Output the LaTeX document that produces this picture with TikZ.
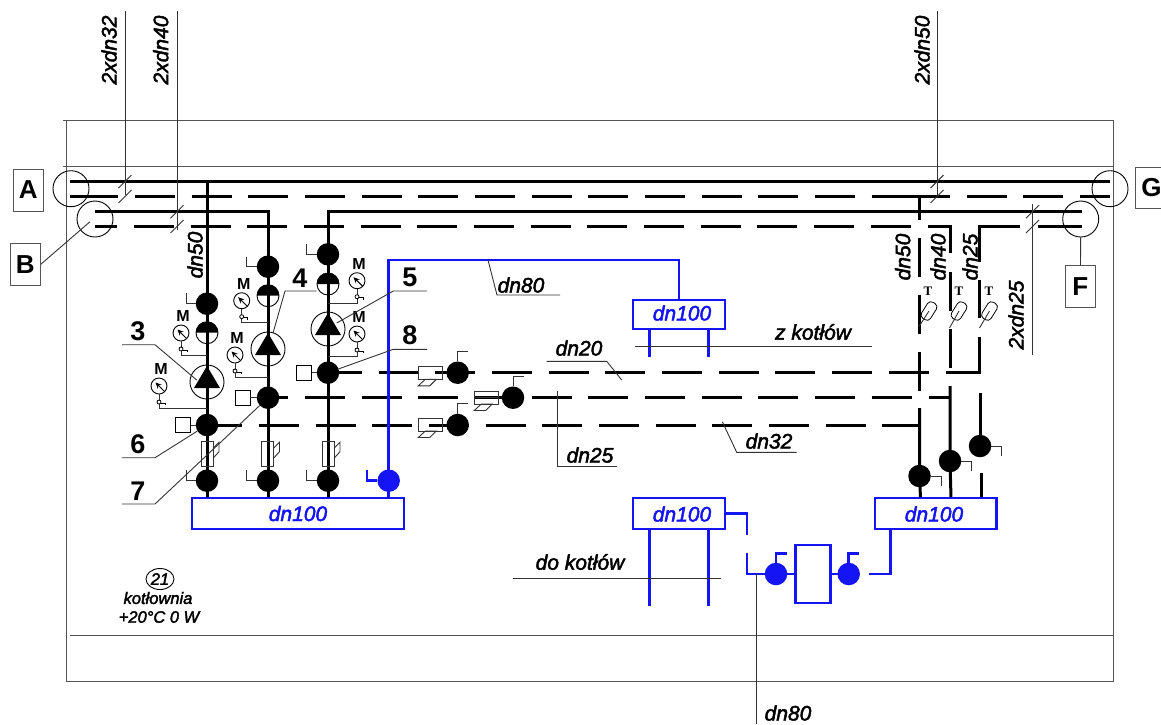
\documentclass[tikz,border=0pt]{standalone}
\usepackage{fontspec}
\setmainfont{Liberation Sans}
\newfontfamily\dnfont{Liberation Sans Italic}[FakeBold=2.2]
\newfontfamily\tfont{Liberation Serif}
\usetikzlibrary{backgrounds,arrows.meta,calc}
\definecolor{pipeblue}{RGB}{20,20,245}
\definecolor{framegray}{RGB}{85,85,85}
\tikzset{
  pipe/.style={line width=3pt,black},
  dashpipe/.style={pipe,dash pattern=on 40pt off 16.67pt},
  bluepipe/.style={line width=2.6pt,pipeblue},
  thin line/.style={line width=0.9pt,black!80},
  frameline/.style={line width=1pt,framegray},
  ball/.style={circle,fill=black,draw=none,minimum size=22.5pt,inner sep=0pt},
  blueball/.style={ball,fill=pipeblue},
  halfb/.style={circle,draw=black,line width=0.9pt,minimum size=22pt,inner sep=0pt},
  pump/.style={circle,draw=black,line width=0.9pt,minimum size=34pt,inner sep=0pt},
  gaugeb/.style={circle,draw=black,fill=white,line width=0.9pt,minimum size=16pt,inner sep=0pt},
  smallbox/.style={draw=black,fill=white,line width=0.9pt,minimum size=15pt,inner sep=0pt},
  letterbox/.style={draw=framegray,fill=white,line width=1pt,minimum width=30pt,minimum height=42pt,inner sep=0pt,font=\fontsize{26}{26}\selectfont\bfseries},
  bluebox/.style={draw=pipeblue,line width=2.6pt,inner sep=0pt,text=pipeblue,font=\dnfont\fontsize{21}{21}\selectfont},
  dnlab/.style={inner sep=0pt,font=\dnfont\fontsize{21}{21}\selectfont},
  smalllab/.style={inner sep=0pt,font=\dnfont\fontsize{16.5}{16.5}\selectfont},
  num/.style={inner sep=0pt,font=\fontsize{27}{27}\selectfont\bfseries},
  mlab/.style={inner sep=0pt,font=\fontsize{16}{16}\selectfont\bfseries},
  tlab/.style={inner sep=0pt,font=\tfont\fontsize{13}{13}\selectfont\bfseries},
  thermo/.style={draw=black,fill=white,line width=0.8pt,rounded corners=4pt,rotate=58,minimum width=19pt,minimum height=10.5pt,inner sep=0pt}
}
\newcommand{\halfball}[3]{% x y name
  \node[halfb] (#3) at (#1,#2) {};
  \fill[black] ($(#1,#2)+(-11,0)$) arc[start angle=180,end angle=0,radius=11pt] -- cycle;
}
% gauge: x, y, name, y of impulse line, pipe x
\newcommand{\gauge}[5]{%
  \node[gaugeb] (#3) at (#1,#2) {};
  \node[mlab] at ($(#1,#2)+(2,-17)$) {M};
  \draw[-{Stealth[length=6pt,width=5.5pt]},line width=1pt] ($(#1,#2)+(5.4,5.4)$) -- ($(#1,#2)+(-3.5,-3.5)$);
  \draw[thin line] (#3.south) -- (#1,#4) -- (#5,#4);
  \draw[line width=0.8pt,fill=white] ($(#1,#2)+(0,16)$) circle[radius=2pt];
  \draw[line width=0.8pt] ($(#1,#2)+(2,17)$) -- ($(#1,#2)+(6,17)$) -- ($(#1,#2)+(6,19)$);
}
% pump: centre x, y, name
\newcommand{\pumpsym}[3]{%
  \node[pump] (#3) at (#1,#2) {};
  \fill[black] ($(#1,#2)+(0,-16)$) -- ($(#1,#2)+(13,6)$) -- ($(#1,#2)+(-13,6)$) -- cycle;
}
% vertical strainer: pipe x
\newcommand{\strainer}[1]{%
  \draw[thin line] ($(#1,441.7)+(-6,0)$) rectangle ($(#1,466.7)+(6,0)$);
  \draw[thin line] ($(#1,448.3)+(6,0)$) -- ($(#1,442.3)+(12,0)$) -- ($(#1,451.7)+(12,0)$) -- ($(#1,458.3)+(6,0)$);
}
% horizontal valve: left x, top y, bottom y
\newcommand{\hvalve}[3]{%
  \draw[thin line] (#1,#2) rectangle ($(#1,#3)+(24,0)$);
  \draw[thin line] ($(#1,#3)+(0,6.5)$) -- ($(#1,#3)+(7,0)$) -- ($(#1,#3)+(18,0)$) -- ($(#1,#3)+(11.5,6.5)$) -- cycle;
}
\begin{document}
\begin{tikzpicture}[x=1pt,y=-1pt]
\useasboundingbox (0,0) rectangle (1161,724);

% ---- frame
\draw[frameline] (66.5,120) rectangle (1113,681);
\draw[frameline] (63,120) -- (1113,120);
\draw[frameline] (63,166) -- (1113,166);
\draw[frameline] (70,635) -- (1113,635);

% ---- named points on the mains
\coordinate (a0) at (70,181.3);   \coordinate (a1) at (1110,181.3);
\coordinate (b0) at (95,211.5);   \coordinate (b1) at (268,211.5);
\coordinate (b2) at (328,211.5);  \coordinate (b3) at (1081.7,211.5);
\coordinate (c1) at (207,181.3);

% ---- balls and other nodes
\node[ball] (v11) at (207,303.7) {};
\node[ball] (v21) at (268,266.7) {};
\node[ball] (v31) at (328,254.3) {};
\node[ball] (j6) at (207,425) {};
\node[ball] (j7) at (268,397.7) {};
\node[ball] (j8) at (328,372.7) {};
\node[ball] (v14) at (207,480.7) {};
\node[ball] (v24) at (268,480.7) {};
\node[ball] (v34) at (328,480.7) {};
\node[blueball] (vb) at (388.7,480.7) {};
\node[ball] (h1) at (457.7,372.7) {};
\node[ball] (h2) at (513,397.7) {};
\node[ball] (h3) at (457.7,425) {};
\node[ball] (r1) at (919.5,476) {};
\node[ball] (r2) at (950,461) {};
\node[ball] (r3) at (980,446) {};
\node[blueball] (p1) at (776,574) {};
\node[blueball] (p2) at (848.7,574) {};

\halfball{207}{332.7}{h11}
\halfball{268}{295.7}{h21}
\halfball{328}{284}{h31}
\pumpsym{207}{382}{pu1}
\pumpsym{268}{349}{pu2}
\pumpsym{328}{329}{pu3}

\node[bluebox,minimum width=212pt,minimum height=31pt] (main) at (298,513.5) {dn100};
\node[bluebox,minimum width=92pt,minimum height=29pt] (top) at (679,314.5) {};
\node[bluebox,minimum width=92pt,minimum height=31pt] (ret) at (679,513.5) {};
\node[dnlab,text=pipeblue] at (682,313) {dn100};
\node[dnlab,text=pipeblue] at (682,514) {dn100};
\node[bluebox,minimum width=121.7pt,minimum height=31pt] (col) at (935.8,513.5) {};
\node[dnlab,text=pipeblue] at (934,514) {dn100};
\node[draw=pipeblue,line width=2.6pt,minimum width=35pt,minimum height=58pt,inner sep=0pt] (bx) at (813.2,574) {};

\node[smallbox] (s8) at (304,372.7) {};
\node[smallbox] (s7) at (243,397.7) {};
\node[smallbox] (s6) at (183,425) {};

% ---- mains
\begin{scope}[on background layer]
\draw[pipe] (a0) -- (a1);
\draw[pipe] (b0) -- (b1) -- (v21.center);
\draw[pipe] (b3) -- (b2) -- (v31.center);
\draw[pipe] (70,196) -- (118,196);
\draw[dashpipe] (135,196) -- (911.7,196);
\draw[pipe] (911.7,196) -- (950,196);
\draw[pipe] (966.7,196) -- (1006.7,196);
\draw[pipe] (1023.4,196) -- (1063.4,196);
\draw[pipe] (1080,196) -- (1110,196);
\draw[pipe] (95,226.7) -- (117,226.7);
\draw[dashpipe] (134,226.7) -- (910.7,226.7);
\draw[pipe] (928,226.7) -- (950,226.7) -- (950,253);
\draw[pipe] (979.5,262) -- (979.5,226.7) -- (1020,226.7);
\draw[pipe] (1038,226.7) -- (1081.7,226.7);

% ---- columns
\draw[pipe] (c1) -- (v11.center) -- (h11.center) -- (pu1.center) -- (j6.center) -- (v14.center);
\draw[pipe] (v21.center) -- (h21.center) -- (pu2.center) -- (j7.center) -- (v24.center);
\draw[pipe] (v31.center) -- (h31.center) -- (pu3.center) -- (j8.center) -- (v34.center);
\draw[pipe] (v14.center) -- (v14.center |- main.north);
\draw[pipe] (v24.center) -- (v24.center |- main.north);
\draw[pipe] (v34.center) -- (v34.center |- main.north);

% ---- distribution lines
\draw[pipe] (j8.center) -- (362,372.7);
\draw[dashpipe] (378.7,372.7) -- (928.7,372.7);
\draw[pipe] (946,372.7) -- (979.5,372.7) -- (979.5,337);
\draw[pipe] (j7.center) -- (288,397.7);
\draw[dashpipe] (305,397.7) -- (912,397.7);
\draw[pipe] (929,397.7) -- (950,397.7);
\draw[pipe] (j6.center) -- (241.7,425);
\draw[dashpipe] (259,425) -- (919.5,425);

% ---- risers on the right
\draw[pipe] (919.5,196) -- (919.5,220);
\draw[pipe,dash pattern=on 39pt off 18pt] (919.5,238) -- (919.5,391);
\draw[pipe] (919.5,408) -- (r1.center) -- (920.5,498);
\draw[pipe,dash pattern=on 38.5pt off 18.5pt] (950,272) -- (950,367.5);
\draw[pipe] (950,386) -- (r2.center) -- (951,498);
\draw[pipe] (979.5,280) -- (979.5,318);
\draw[pipe] (980,393) -- (r3.center);
\draw[pipe] (981,472.7) -- (981,498);

% ---- blue pipes
\draw[bluepipe] (vb.center) -- (388.7,260) -- (679,260) -- (top.north);
\draw[bluepipe] (vb.center) -- (vb.center |- main.north);
\draw[bluepipe] (649.3,329) -- (649.3,357) (708.7,329) -- (708.7,357);
\draw[bluepipe] (649.3,529) -- (649.3,606);
\draw[bluepipe] (708.7,529) -- (708.7,606);
\draw[bluepipe] (725,513.3) -- (747,513.3) -- (747,535);
\draw[bluepipe] (747,552.7) -- (747,574) -- (p1.center) -- (bx.west);
\draw[bluepipe] (bx.east) -- (p2.center);
\draw[bluepipe] (869,574) -- (890.7,574) -- (890.7,529);
\end{scope}

% ---- valve stems
\foreach \n/\xx/\yy in {v11/186/293, v21/246.7/256.7, v31/306.7/244, v14/186/470, v24/246.7/470, v34/306.7/470}
  \draw[thin line] (\n.west) -| (\xx,\yy);
\draw[bluepipe] (vb.west) -- (367,480.7) -- (367,470);
\draw[thin line] (h1.north) -- (457.7,351.7) -- (468.3,351.7);
\draw[thin line] (h2.north) -- (513,376.7) -- (524,376.7);
\draw[thin line] (h3.north) -- (457.7,403) -- (468.3,403);
\draw[thin line] (r1.east) -- (941,476) -- (941,486);
\draw[thin line] (r2.east) -- (971,461) -- (971,471);
\draw[thin line] (r3.east) -- (1001,446) -- (1001,456);
\draw[bluepipe] (p1.north) -- (776,553.3) -- (786.7,553.3);
\draw[bluepipe] (p2.north) -- (848.7,553.3) -- (859,553.3);

\draw[thin line] (s8) -- (j8);
\draw[thin line] (s7) -- (j7);
\draw[thin line] (s6) -- (j6);

% ---- gauges
\gauge{181}{333}{g1}{355.7}{207}
\gauge{159}{386}{g2}{408}{207}
\gauge{241.7}{300.7}{g3}{322.7}{268}
\gauge{235}{355}{g4}{377.7}{268}
\gauge{357}{280.7}{g5}{303}{328}
\gauge{357}{334}{g6}{356.7}{328}

% ---- strainers and valves
\strainer{207}
\strainer{267.5}
\strainer{328}
\hvalve{418.3}{366}{379.3}
\hvalve{474.3}{391.7}{404}
\hvalve{418.3}{418.3}{431}
\draw[thin line] (474.3,397.7) -- (498.3,397.7);

% ---- thermometers
\node[tlab] at (928,291) {T};
\node[tlab] at (959,291) {T};
\node[tlab] at (989,291) {T};
\node[thermo] (t1) at (929,311) {};
\node[thermo] (t2) at (959,311) {};
\node[thermo] (t3) at (989.5,311) {};
\coordinate (ts1) at (919,326.5);
\coordinate (ts2) at (949.5,328);
\coordinate (ts3) at (979.5,328);
\draw[thin line] (ts1) -- (t1.center);
\draw[thin line] (ts2) -- (t2.center);
\draw[thin line] (ts3) -- (t3.center);

% ---- connection circles and letter boxes
\node[letterbox] (A) at (28.2,190) {A};
\node[letterbox] (B) at (25.3,264.3) {B};
\node[letterbox] (F) at (1080.4,286.8) {F};
\node[circle,draw=black,line width=0.9pt,minimum size=36pt,inner sep=0pt] (cA) at (71,188.7) {};
\node[circle,draw=black,line width=0.9pt,minimum size=36pt,inner sep=0pt] (cB) at (95,219) {};
\node[circle,draw=black,line width=0.9pt,minimum size=36pt,inner sep=0pt] (cG) at (1110,188.7) {};
\node[circle,draw=black,line width=0.9pt,minimum size=36pt,inner sep=0pt] (cF) at (1080.7,219) {};
\draw[frameline] (1161,167) -- (1135.3,167) -- (1135.3,208) -- (1161,208);
\node[inner sep=0pt,font=\fontsize{26}{26}\selectfont\bfseries] (G) at (1151.5,188) {G};
\coordinate (bl) at (90,221.7);
\draw[thin line] (B.east) -- (bl);
\draw[thin line] (cF) -- (F);

% ---- line-size leaders with ticks
\coordinate (l1) at (125.7,11);   \coordinate (l1e) at (125.7,195);
\coordinate (l2) at (177,11);     \coordinate (l2e) at (177,230);
\coordinate (l3) at (937.3,11);   \coordinate (l3e) at (937.3,196);
\coordinate (l4) at (1032.3,204); \coordinate (l4e) at (1032.3,355);
\draw[thin line] (l1) -- (l1e);
\draw[thin line] (l2) -- (l2e);
\draw[thin line] (l3) -- (l3e);
\draw[thin line] (l4) -- (l4e);
\foreach \tx/\ty in {125/181.6,125/196.4,177/211.8,177/226.4,937/181.6,937/196.4,1032.5/211.7,1032.5/226.4}
  \draw[thin line] (\tx-6.5,\ty+6.5) -- (\tx+6.5,\ty-6.5);
\node[dnlab,rotate=90] (t32) at (109,50) {2xdn32};
\node[dnlab,rotate=90] (t40) at (160.7,50) {2xdn40};
\node[dnlab,rotate=90] (t50) at (922,50) {2xdn50};
\node[dnlab,rotate=90] (t25) at (1016,315) {2xdn25};
\node[dnlab,rotate=90] (d50a) at (195,255) {dn50};
\node[dnlab,rotate=90] (d50b) at (902.7,257) {dn50};
\node[dnlab,rotate=90] (d40) at (938,257) {dn40};
\node[dnlab,rotate=90] (d25) at (970,257) {dn25};

% ---- numbered callouts
\node[num] (n3) at (138,331.7) {3};
\node[num] (n4) at (300,278) {4};
\node[num] (n5) at (410,277) {5};
\node[num] (n8) at (410,335) {8};
\node[num] (n6) at (138,444) {6};
\node[num] (n7) at (138,491) {7};
\draw[thin line] (122,344.7) -- (155,344.7) -- (196.7,380);
\draw[thin line] (316.7,291) -- (285,291) -- (273,333);
\draw[thin line] (336.7,323) -- (393.3,291) -- (427,291);
\draw[thin line] (j8) -- (393.3,349.3) -- (427,349.3);
\draw[thin line] (122,457.7) -- (155,457.7) -- (j6);
\draw[thin line] (122,504) -- (155,504) -- (j7);

% ---- pipe size labels
\node[dnlab] (d80a) at (521,285) {dn80};
\draw[thin line] (488,260) -- (497,295) -- (560,295);
\node[dnlab] (d20) at (579,348) {dn20};
\draw[thin line] (546.7,361.3) -- (606.7,361.3) -- (621.7,380);
\node[dnlab] (d25b) at (590,455) {dn25};
\draw[thin line] (557.7,391) -- (557.7,466.7) -- (616.7,466.7);
\node[dnlab] (d32) at (769,441) {dn32};
\draw[thin line] (722.3,421.7) -- (736.7,452.3) -- (796.7,452.3);
\node[dnlab] (zk) at (813,332) {z kotłów};
\draw[thin line] (635,346) -- (872,346);
\node[dnlab] (dk) at (580,562) {do kotłów};
\draw[thin line] (513,578) -- (720.7,578);
\node[dnlab] (d80b) at (788,713) {dn80};
\coordinate (d80foot) at (756.7,724);
\draw[thin line] (756.7,574) -- (d80foot);

% ---- room tag
\draw[line width=0.9pt] (160,579) ellipse[x radius=14pt,y radius=10.5pt];
\node[smalllab] (r21) at (160,579) {21};
\node[smalllab] (rn) at (158,598) {kotłownia};
\node[smalllab] (rt) at (159,617) {+20°C 0 W};
\end{tikzpicture}
\end{document}
